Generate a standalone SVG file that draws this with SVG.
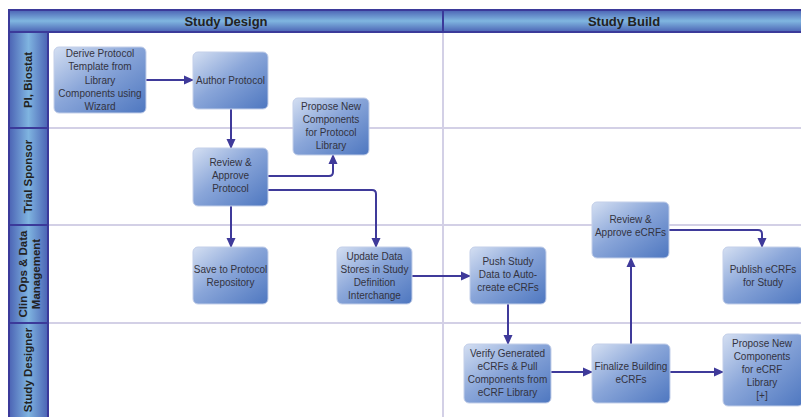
<svg xmlns="http://www.w3.org/2000/svg" width="801" height="417" viewBox="0 0 801 417">
<defs>
<linearGradient id="nodeGrad" x1="0" y1="0" x2="1" y2="1">
<stop offset="0" stop-color="#d4dff2"/>
<stop offset="0.45" stop-color="#8aa6d9"/>
<stop offset="1" stop-color="#4e77c0"/>
</linearGradient>
<linearGradient id="hdrGrad" x1="0" y1="0" x2="0" y2="1">
<stop offset="0" stop-color="#4b63b4"/>
<stop offset="0.5" stop-color="#80b6e0"/>
<stop offset="1" stop-color="#4b63b4"/>
</linearGradient>
<linearGradient id="laneGrad" x1="0" y1="0" x2="1" y2="0">
<stop offset="0" stop-color="#4b63b4"/>
<stop offset="0.5" stop-color="#7fb4e0"/>
<stop offset="1" stop-color="#4b63b4"/>
</linearGradient>
<marker id="arr" markerUnits="userSpaceOnUse" markerWidth="10" markerHeight="10" viewBox="0 0 10 10" refX="9" refY="5" orient="auto">
<path d="M0,0.5 L10,5 L0,9.5 Z" fill="#3f3a9a"/>
</marker>
</defs>
<style>
.node rect{fill:url(#nodeGrad);stroke:#c3cfe9;stroke-width:1}
.node text{font-family:"Liberation Sans",Arial,sans-serif;font-size:10px;fill:#33333f;text-anchor:middle}
.conn path{fill:none;stroke:#3f3a9a;stroke-width:2;marker-end:url(#arr)}
.sep{stroke:#d3d0e6;stroke-width:2}
.frame{stroke:#3b3a9a;stroke-width:2}
.hdr{font-family:"Liberation Sans",Arial,sans-serif;font-size:13px;font-weight:bold;fill:#222;text-anchor:middle}
.lane{font-family:"Liberation Sans",Arial,sans-serif;font-size:11.5px;font-weight:bold;fill:#222;text-anchor:middle}
</style>
<rect width="801" height="417" fill="#fff"/>
<g id="grid">
<line class="sep" x1="48" y1="128" x2="801" y2="128"/>
<line class="sep" x1="48" y1="225" x2="801" y2="225"/>
<line class="sep" x1="48" y1="323" x2="801" y2="323"/>
<line class="sep" x1="443" y1="32" x2="443" y2="417"/>
</g>
<g id="header">
<rect x="9" y="10" width="800" height="22" fill="url(#hdrGrad)" class="frame"/>
<line class="frame" x1="443" y1="10" x2="443" y2="32"/>
<text class="hdr" x="226" y="26">Study Design</text>
<text class="hdr" x="624" y="26">Study Build</text>
</g>
<g id="lanes">
<rect x="9" y="32" width="39" height="390" fill="url(#laneGrad)" class="frame"/>
<line class="frame" x1="9" y1="128" x2="48" y2="128"/>
<line class="frame" x1="9" y1="225" x2="48" y2="225"/>
<line class="frame" x1="9" y1="323" x2="48" y2="323"/>
<text class="lane" transform="translate(32,80) rotate(-90)">PI, Biostat</text>
<text class="lane" transform="translate(32,176.5) rotate(-90)">Trial Sponsor</text>
<text class="lane" transform="translate(28.5,274) rotate(-90)"><tspan x="0" y="-2">Clin Ops &amp; Data</tspan><tspan x="0" y="11">Management</tspan></text>
<text class="lane" transform="translate(32,370) rotate(-90)">Study Designer</text>
</g>
<g id="connectors" class="conn">
<path d="M146,80 H193"/>
<path d="M231,109 V148"/>
<path d="M268,176 H329 Q333,176 333,172 V155"/>
<path d="M268,190 H372 Q376,190 376,194 V247"/>
<path d="M231,206 V247"/>
<path d="M412,276 H470"/>
<path d="M508,304 V344"/>
<path d="M551,372 H592"/>
<path d="M631,344 V258"/>
<path d="M669,230 H758 Q762,230 762,234 V247"/>
<path d="M670,372 H723"/>
</g>
<g id="n1" class="node"><rect x="54" y="47" width="92" height="66" rx="5"/>
<text><tspan x="100" y="57">Derive Protocol</tspan><tspan x="100" y="70">Template from</tspan><tspan x="100" y="83.5">Library</tspan><tspan x="100" y="96.5">Components using</tspan><tspan x="100" y="109.5">Wizard</tspan></text></g>
<g id="n2" class="node"><rect x="193" y="52" width="75" height="57" rx="5"/>
<text><tspan x="230.5" y="83.5">Author Protocol</tspan></text></g>
<g id="n3" class="node"><rect x="293" y="98" width="76" height="57" rx="5"/>
<text><tspan x="331" y="110">Propose New</tspan><tspan x="331" y="123">Components</tspan><tspan x="331" y="136">for Protocol</tspan><tspan x="331" y="149">Library</tspan></text></g>
<g id="n4" class="node"><rect x="193" y="148" width="75" height="58" rx="5"/>
<text><tspan x="230.5" y="165.5">Review &amp;</tspan><tspan x="230.5" y="178.5">Approve</tspan><tspan x="230.5" y="192">Protocol</tspan></text></g>
<g id="n5" class="node"><rect x="193" y="247" width="75" height="57" rx="5"/>
<text><tspan x="230.5" y="272.5">Save to Protocol</tspan><tspan x="230.5" y="285.5">Repository</tspan></text></g>
<g id="n6" class="node"><rect x="337" y="247" width="75" height="57" rx="5"/>
<text><tspan x="374.5" y="259.5">Update Data</tspan><tspan x="374.5" y="272.5">Stores in Study</tspan><tspan x="374.5" y="285.5">Definition</tspan><tspan x="374.5" y="298.5">Interchange</tspan></text></g>
<g id="n7" class="node"><rect x="470" y="247" width="76" height="57" rx="5"/>
<text><tspan x="508" y="265">Push Study</tspan><tspan x="508" y="278">Data to Auto-</tspan><tspan x="508" y="291">create eCRFs</tspan></text></g>
<g id="n8" class="node"><rect x="592" y="202" width="77" height="56" rx="5"/>
<text><tspan x="630.5" y="222.5">Review &amp;</tspan><tspan x="630.5" y="235.5">Approve eCRFs</tspan></text></g>
<g id="n9" class="node"><rect x="723" y="247" width="80" height="57" rx="5"/>
<text><tspan x="763" y="272.5">Publish eCRFs</tspan><tspan x="763" y="285.5">for Study</tspan></text></g>
<g id="n10" class="node"><rect x="464" y="344" width="87" height="59" rx="5"/>
<text><tspan x="507.5" y="356.5">Verify Generated</tspan><tspan x="507.5" y="369.5">eCRFs &amp; Pull</tspan><tspan x="507.5" y="382.5">Components from</tspan><tspan x="507.5" y="396">eCRF Library</tspan></text></g>
<g id="n11" class="node"><rect x="592" y="344" width="78" height="59" rx="5"/>
<text><tspan x="631" y="369.5">Finalize Building</tspan><tspan x="631" y="382.5">eCRFs</tspan></text></g>
<g id="n12" class="node"><rect x="723" y="334" width="80" height="72" rx="5"/>
<text><tspan x="762" y="346.5">Propose New</tspan><tspan x="762" y="359.5">Components</tspan><tspan x="762" y="372.5">for eCRF</tspan><tspan x="762" y="385.5">Library</tspan><tspan x="762" y="398.5">[+]</tspan></text></g>
</svg>
